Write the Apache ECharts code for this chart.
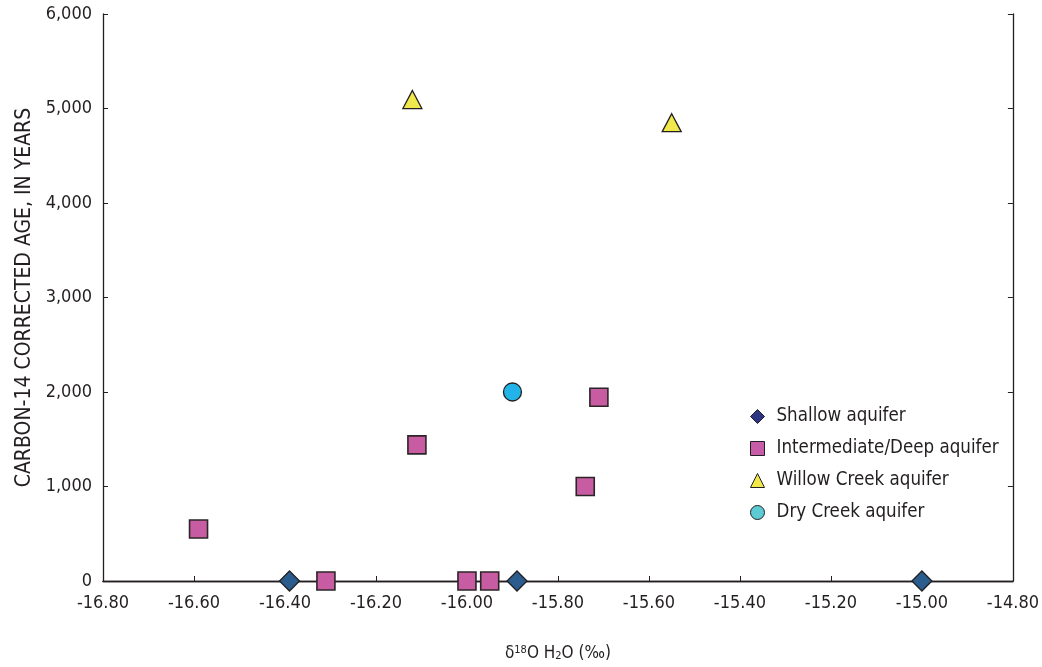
<!DOCTYPE html>
<html>
<head>
<meta charset="utf-8">
<script src="https://cdn.jsdelivr.net/npm/echarts@6/dist/echarts.min.js"></script>
<style>
html,body{margin:0;padding:0;background:#fff;}
#chart{width:1042px;height:667px;}
</style>
</head>
<body>
<div id="chart"></div>
<script>
// Data
const shallowX = [-16.39, -15.89, -15.00];
const shallowY = [0, 0, 0];
const interX = [-16.59, -16.31, -16.11, -16.00, -15.95, -15.74, -15.71];
const interY = [550, 0, 1440, 0, 0, 1000, 1945];
const willowX = [-16.12, -15.55];
const willowY = [5095, 4850];
const dryX = [-15.90];
const dryY = [2000];

const seriesNames = ['Shallow aquifer', 'Intermediate/Deep aquifer', 'Willow Creek aquifer', 'Dry Creek aquifer'];
const yTitle = 'CARBON-14 CORRECTED AGE, IN YEARS';

const FONT = '"Liberation Sans Narrow", "DejaVu Sans Condensed", "Roboto", sans-serif';
const TXT = '#231f20';

function pairs(xs, ys) { return xs.map((x, i) => [x, ys[i]]); }

const chart = echarts.init(document.getElementById('chart'));
const axisLine = { show: true, lineStyle: { color: '#231f20', width: 1.3 } };

chart.setOption({
  animation: false,
  backgroundColor: '#ffffff',
  textStyle: { fontFamily: FONT, color: TXT },
  grid: { left: 103, right: 25, top: 14, bottom: 84, containLabel: false },
  legend: {
    orient: 'vertical',
    left: 745,
    top: 402,
    itemWidth: 14,
    itemHeight: 14,
    itemGap: 13,
    textStyle: { fontFamily: FONT, fontSize: 18.6, color: TXT, padding: [0, 0, 0, 7] },
    data: [
      { name: seriesNames[0], icon: 'diamond', itemStyle: { color: '#2d3484', borderColor: '#231f20', borderWidth: 1 } },
      { name: seriesNames[1], icon: 'rect', itemStyle: { color: '#c75ca8', borderColor: '#231f20', borderWidth: 1 } },
      { name: seriesNames[2], icon: 'triangle', itemStyle: { color: '#f1e94a', borderColor: '#231f20', borderWidth: 1 } },
      { name: seriesNames[3], icon: 'circle', itemStyle: { color: '#5ccbd3', borderColor: '#231f20', borderWidth: 1 } }
    ]
  },
  xAxis: [{
    type: 'value', min: -16.8, max: -14.8, interval: 0.2,
    axisLine: axisLine,
    axisTick: { show: true, inside: true, length: 5, lineStyle: { color: '#231f20', width: 1 } },
    splitLine: { show: false },
    axisLabel: { fontFamily: FONT, fontSize: 18, color: TXT, margin: 13, formatter: v => v.toFixed(2) },
    name: '{a|δ}{sup|18}{a|O H}{sub|2}{a|O (‰)}',
    nameLocation: 'middle', nameGap: 64,
    nameTextStyle: {
      rich: {
        a: { fontFamily: FONT, fontSize: 17, color: TXT },
        sup: { fontFamily: FONT, fontSize: 11, color: TXT, verticalAlign: 'top', padding: [0, 0, 6, 0] },
        sub: { fontFamily: FONT, fontSize: 11, color: TXT, verticalAlign: 'bottom', padding: [6, 0, 0, 0] }
      }
    }
  }, {
    type: 'value', position: 'top', min: -16.8, max: -14.8, interval: 0.2,
    axisLine: axisLine, axisTick: { show: false }, axisLabel: { show: false }, splitLine: { show: false }
  }],
  yAxis: [{
    type: 'value', min: 0, max: 6000, interval: 1000,
    axisLine: axisLine,
    axisTick: { show: true, inside: true, length: 5, lineStyle: { color: '#231f20', width: 1 } },
    splitLine: { show: false },
    axisLabel: { fontFamily: FONT, fontSize: 18, color: TXT, margin: 11,
      formatter: v => v.toLocaleString('en-US') },
    name: yTitle, nameLocation: 'middle', nameGap: 66, nameRotate: 90,
    nameTextStyle: { fontFamily: FONT, fontSize: 21, color: TXT }
  }, {
    type: 'value', position: 'right', min: 0, max: 6000, interval: 1000,
    axisLine: axisLine,
    axisTick: { show: true, inside: true, length: 5, lineStyle: { color: '#231f20', width: 1 } },
    axisLabel: { show: false }, splitLine: { show: false }
  }],
  series: [
    { name: seriesNames[0], type: 'scatter', symbol: 'diamond', symbolSize: [20, 20], z: 3,
      itemStyle: { color: '#2a5d8e', borderColor: '#231f20', borderWidth: 1.3, opacity: 1 },
      data: pairs(shallowX, shallowY) },
    { name: seriesNames[1], type: 'scatter', symbol: 'rect', symbolSize: 18, z: 3,
      itemStyle: { color: '#c85ca3', borderColor: '#2b2526', borderWidth: 1.6, opacity: 1 },
      data: pairs(interX, interY) },
    { name: seriesNames[2], type: 'scatter', symbol: 'triangle', symbolSize: [19, 18], z: 3,
      itemStyle: { color: '#f0e84c', borderColor: '#231f20', borderWidth: 1.3, opacity: 1 },
      data: pairs(willowX, willowY) },
    { name: seriesNames[3], type: 'scatter', symbol: 'circle', symbolSize: 18, z: 3,
      itemStyle: { color: '#22b4e8', borderColor: '#231f20', borderWidth: 1.3, opacity: 1 },
      data: pairs(dryX, dryY) }
  ]
});
</script>
</body>
</html>
